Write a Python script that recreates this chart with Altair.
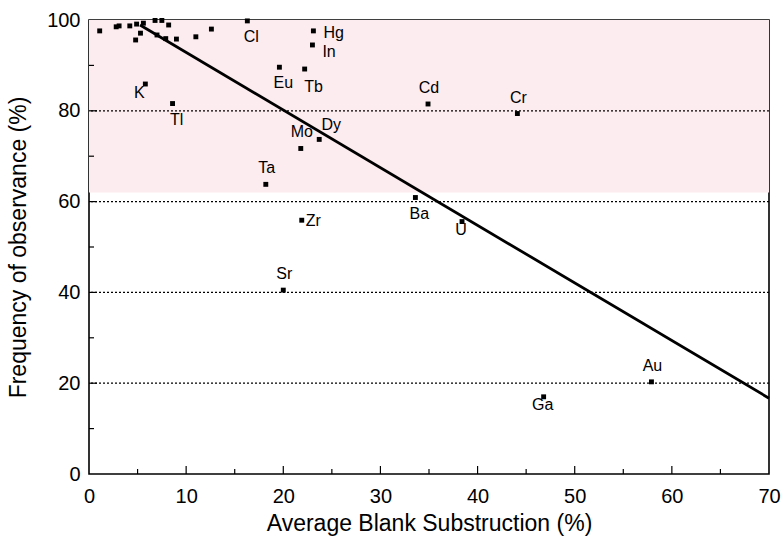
import altair as alt
import pandas as pd

# ---- data ----
el_names = ["Cl", "Hg", "In", "Eu", "Tb", "K", "Tl", "Cd", "Cr", "Dy", "Mo", "Ta",
            "Ba", "Zr", "U", "Sr", "Au", "Ga"]
el_x = [16.3, 23.1, 23.0, 19.6, 22.2, 5.8, 8.6, 34.9, 44.1, 23.7, 21.8, 18.2,
        33.6, 21.9, 38.4, 20.0, 57.9, 46.8]
el_y = [99.8, 97.6, 94.5, 89.6, 89.2, 85.9, 81.6, 81.5, 79.4, 73.7, 71.7, 63.8,
        60.9, 55.9, 55.6, 40.5, 20.3, 17.0]
el_pos = ["below", "right", "right_low", "below", "below_r", "left_low", "below",
          "above", "above", "above_right", "above", "above", "below", "right_near",
          "below_near", "above", "above", "below_near"]

other_x = [1.1, 2.8, 3.1, 4.2, 4.9, 5.6, 6.8, 7.5, 8.2, 5.3, 4.8, 7.0, 7.9, 9.0, 11.0, 12.6]
other_y = [97.6, 98.5, 98.7, 98.7, 99.1, 99.3, 99.9, 99.9, 98.9, 97.1, 95.6, 96.7, 95.9,
           95.8, 96.3, 98.0]

fit_x = [5.25, 70.0]
fit_y = [98.9, 16.7]

grid_values = [20, 40, 60, 80]
x_tick_labels = [0, 10, 20, 30, 40, 50, 60, 70]
y_tick_labels = [0, 20, 40, 60, 80, 100]
x_major = [10, 20, 30, 40, 50, 60]
x_minor = [5, 15, 25, 35, 45, 55, 65]
y_major = [20, 40, 60, 80]
y_minor = [10, 30, 50, 70, 90]
band_y = [62, 100]

# ---- styling ----
W, H = 680, 454
FONT = "Liberation Sans"
offsets = {
    "below": dict(dx=4, dy=16, align="center"),
    "below_r": dict(dx=9, dy=18, align="center"),
    "above": dict(dx=1, dy=-16, align="center"),
    "right": dict(dx=10, dy=2, align="left"),
    "right_low": dict(dx=10, dy=7, align="left"),
    "right_near": dict(dx=4, dy=1, align="left"),
    "left_low": dict(dx=-6, dy=9, align="center"),
    "above_right": dict(dx=12, dy=-14, align="center"),
    "below_near": dict(dx=-1, dy=8, align="center"),
}

labeled = pd.DataFrame({"name": el_names, "x": el_x, "y": el_y, "pos": el_pos})
others = pd.DataFrame({"x": other_x, "y": other_y})
fit = pd.DataFrame({"x": fit_x, "y": fit_y})
grid = pd.DataFrame({"v": grid_values})
band = pd.DataFrame({"lo": [band_y[0]], "hi": [band_y[1]]})

xs = alt.Scale(domain=[0, 70], nice=False, zero=False)
ys = alt.Scale(domain=[0, 100], nice=False)

xaxis = alt.Axis(values=x_tick_labels, title="Average Blank Substruction (%)",
                 domain=False, ticks=False, grid=False, labelFlush=False,
                 labelOverlap=False, labelFont=FONT, labelFontSize=20,
                 labelColor="black", labelPadding=12, titleFont=FONT,
                 titleFontSize=23, titleFontWeight="normal", titleColor="black",
                 titleY=49, titleBaseline="middle", format="d")
yaxis = alt.Axis(values=y_tick_labels, title="Frequency of observance (%)",
                 domain=False, ticks=False, grid=False, labelFlush=False,
                 labelOverlap=False, labelFont=FONT, labelFontSize=20,
                 labelColor="black", labelPadding=9, titleFont=FONT,
                 titleFontSize=23, titleFontWeight="normal", titleColor="black",
                 titleX=-71, titleBaseline="middle", format="d")

X = lambda f: alt.X(f, scale=xs, axis=xaxis)
Y = lambda f: alt.Y(f, scale=ys, axis=yaxis)

band_layer = alt.Chart(band).mark_rect(color="#fdecef").encode(
    x=alt.value(0), x2=alt.value(W), y=Y("lo:Q"), y2="hi:Q")

grid_layer = alt.Chart(grid).mark_rule(color="black", strokeDash=[2, 2],
                                       strokeWidth=1.3).encode(y=Y("v:Q"))

fit_layer = alt.Chart(fit).mark_line(color="black", strokeWidth=2.8).encode(
    x=X("x:Q"), y=Y("y:Q"))

def yticks(vals, length):
    return alt.Chart(pd.DataFrame({"v": vals})).mark_rule(
        color="black", strokeWidth=1.2).encode(
        y=Y("v:Q"), x=alt.value(0), x2=alt.value(length))

def xticks(vals, length):
    return alt.Chart(pd.DataFrame({"v": vals})).mark_rule(
        color="black", strokeWidth=1.2).encode(
        x=X("v:Q"), y=alt.value(H), y2=alt.value(H - length))

other_layer = alt.Chart(others).mark_square(color="black", size=24, opacity=1).encode(
    x=X("x:Q"), y=Y("y:Q"))

pts_layer = alt.Chart(labeled).mark_square(color="black", size=24, opacity=1).encode(
    x=X("x:Q"), y=Y("y:Q"))

text_layers = []
for cat, o in offsets.items():
    text_layers.append(
        alt.Chart(labeled).transform_filter(alt.datum.pos == cat).mark_text(
            font=FONT, fontSize=16, color="black", baseline="middle", **o).encode(
            x=X("x:Q"), y=Y("y:Q"), text="name:N"))

chart = alt.layer(
    band_layer, grid_layer, fit_layer,
    yticks(y_major, 8), yticks(y_minor, 5), xticks(x_major, 8), xticks(x_minor, 5),
    other_layer, pts_layer, *text_layers
).properties(
    width=W, height=H,
    autosize=alt.AutoSizeParams(type="none"),
    padding={"left": 89, "top": 20, "right": 14, "bottom": 64},
    background="white",
).configure_view(stroke="black", strokeWidth=1.6)

chart.save("out.html", embed_options={"renderer": "svg", "actions": False})
